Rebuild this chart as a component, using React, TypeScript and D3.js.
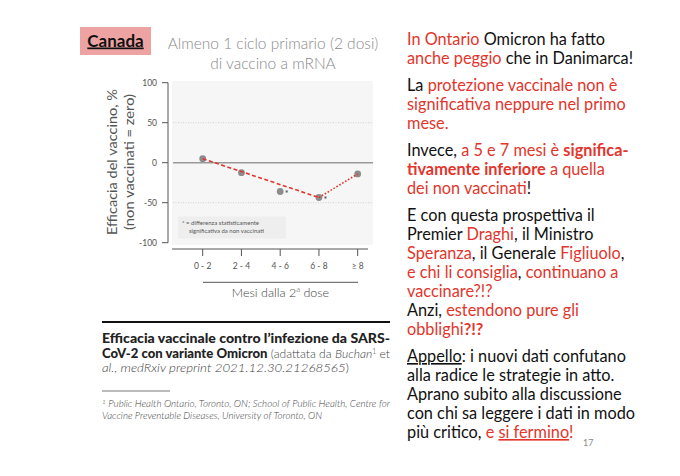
import React from "react";
import * as d3 from "d3";

const categories = ["0 - 2", "2 - 4", "4 - 6", "6 - 8", "≥ 8"];
const efficacy = [5, -12.5, -36, -43.5, -14];
const significant = [false, false, true, true, false];
const yTicks = [100, 50, 0, -50, -100];
const gridTicks = [50, -50];
const dashedTrend = ["0 - 2", "6 - 8"];
const dottedTrend = ["6 - 8", "≥ 8"];

type Seg = { t: string; c?: string; b?: boolean; u?: boolean };
const RED = "#e2352c";
const BLK = "#111";

const rightLines: (Seg[] | null)[] = [
  [{ t: "In Ontario ", c: RED }, { t: "Omicron ha fatto" }],
  [{ t: "anche peggio", c: RED }, { t: " che in Danimarca!" }],
  null,
  [{ t: "La " }, { t: "protezione vaccinale non è", c: RED }],
  [{ t: "significativa neppure nel primo", c: RED }],
  [{ t: "mese.", c: RED }],
  null,
  [{ t: "Invece, " }, { t: "a 5 e 7 mesi è ", c: RED }, { t: "significa-", c: RED, b: true }],
  [{ t: "tivamente inferiore", c: RED, b: true }, { t: " a quella", c: RED }],
  [{ t: "dei non vaccinati", c: RED }, { t: "!" }],
  null,
  [{ t: "E con questa prospettiva il" }],
  [{ t: "Premier " }, { t: "Draghi", c: RED }, { t: ", il Ministro" }],
  [{ t: "Speranza", c: RED }, { t: ", il Generale " }, { t: "Figliuolo", c: RED }, { t: "," }],
  [{ t: "e chi li consiglia", c: RED }, { t: ", " }, { t: "continuano a", c: RED }],
  [{ t: "vaccinare?!?", c: RED }],
  [{ t: "Anzi, " }, { t: "estendono pure gli", c: RED }],
  [{ t: "obblighi", c: RED }, { t: "?!?", c: RED, b: true }],
  null,
  [{ t: "Appello", u: true }, { t: ": i nuovi dati confutano" }],
  [{ t: "alla radice le strategie in atto." }],
  [{ t: "Aprano subito alla discussione" }],
  [{ t: "con chi sa leggere i dati in modo" }],
  [{ t: "più critico, " }, { t: "e ", c: RED }, { t: "si fermino", c: RED, u: true }, { t: "!", c: RED }],
];

export default function App() {
  const x = d3.scalePoint<string>().domain(categories).range([202.7, 357.7]);
  const y = d3.scaleLinear().domain([-100, 100]).range([242.7, 82.7]);
  const val = (c: string) => efficacy[categories.indexOf(c)];
  const line = d3
    .line<string>()
    .x((c) => x(c)!)
    .y((c) => y(val(c)));

  const chartFont = "Lato, 'Open Sans', sans-serif";
  const slideFont = "Lato, 'Liberation Sans', sans-serif";

  let yy = 45;
  const rightEls: React.ReactNode[] = [];
  rightLines.forEach((ln, i) => {
    if (ln === null) {
      yy += 8;
      return;
    }
    rightEls.push(
      <text key={i} x={407} y={yy} fontFamily={slideFont} fontSize={16.3} fill={BLK}>
        {ln.map((s, j) => (
          <tspan
            key={j}
            fill={s.c || BLK}
            fontWeight={s.b ? 700 : 400}
            textDecoration={s.u ? "underline" : undefined}
          >
            {s.t}
          </tspan>
        ))}
      </text>
    );
    yy += 19;
  });

  return (
    <svg
      width={680}
      height={476}
      style={{ position: "absolute", left: 0, top: 0, background: "#fff" }}
    >
      <rect x={0} y={0} width={680} height={476} fill="#fff" />
      {/* Canada label */}
      <rect x={80} y={27} width={71} height={28} fill="#eea3a3" />
      <text x={115.5} y={46.5} textAnchor="middle" fontFamily={slideFont} fontSize={17} fontWeight={700} fill="#111" textDecoration="underline">
        Canada
      </text>
      {/* subtitle */}
      <text x={273} y={49} textAnchor="middle" fontFamily={chartFont} fontWeight={300} fontSize={15.5} fill="#8a8a8a">
        Almeno 1 ciclo primario (2 dosi)
      </text>
      <text x={273} y={69} textAnchor="middle" fontFamily={chartFont} fontWeight={300} fontSize={15.5} fill="#8a8a8a">
        di vaccino a mRNA
      </text>

      {/* plot background */}
      <rect x={172} y={81} width={201} height={164} fill="#f6f6f6" />
      {gridTicks.map((t) => (
        <line key={t} x1={173} x2={373} y1={y(t)} y2={y(t)} stroke="#cfcfcf" strokeWidth={1} strokeDasharray="1,1.5" />
      ))}
      <line x1={173} x2={373} y1={y(0)} y2={y(0)} stroke="#9a9a9a" strokeWidth={1.6} />

      {/* y axis */}
      <line x1={168} x2={168} y1={y(100)} y2={y(-100)} stroke="#555" strokeWidth={1} />
      {yTicks.map((t) => (
        <g key={t}>
          <line x1={162} x2={168} y1={y(t)} y2={y(t)} stroke="#555" strokeWidth={1} />
          <text x={157} y={y(t) + 3} textAnchor="end" fontFamily={chartFont} fontSize={8.5} fill="#555">
            {t}
          </text>
        </g>
      ))}
      <text transform={`translate(117,162) rotate(-90)`} textAnchor="middle" fontFamily={chartFont} fontSize={13.5} fill="#555" textLength={146} lengthAdjust="spacingAndGlyphs">
        Efficacia del vaccino, %
      </text>
      <text transform={`translate(134,162) rotate(-90)`} textAnchor="middle" fontFamily={chartFont} fontSize={13.5} fill="#555" textLength={136} lengthAdjust="spacingAndGlyphs">
        (non vaccinati = zero)
      </text>

      {/* legend box */}
      <rect x={178} y={216.5} width={108} height={22} fill="#eeeeee" />
      <text x={182} y={225} fontFamily={chartFont} fontSize={6} fill="#555">
        <tspan fill="#333">*</tspan> = differenza statisticamente
      </text>
      <text x={189} y={233} fontFamily={chartFont} fontSize={6} fill="#555">
        significativa da non vaccinati
      </text>

      {/* x axis */}
      <line x1={172} x2={368} y1={249} y2={249} stroke="#555" strokeWidth={1} />
      {categories.map((c) => (
        <g key={c}>
          <line x1={x(c)} x2={x(c)} y1={249} y2={256} stroke="#555" strokeWidth={1} />
          <text x={x(c)} y={269} textAnchor="middle" fontFamily={chartFont} fontSize={8.5} fill="#555">
            {c}
          </text>
        </g>
      ))}
      <line x1={203} x2={358} y1={282.3} y2={282.3} stroke="#555" strokeWidth={1} />
      <text x={280.5} y={297} textAnchor="middle" fontFamily={chartFont} fontSize={12.5} fontWeight={300} fill="#444">
        Mesi dalla 2<tspan fontSize={8} dy={-5}>a</tspan>
        <tspan dy={5}> dose</tspan>
      </text>

      {/* points */}
      {categories.map((c, i) => (
        <circle key={c} cx={x(c)} cy={y(efficacy[i])} r={3.4} fill="#8c8c8c" />
      ))}
      {/* trend lines */}
      <path d={line(dashedTrend)!} fill="none" stroke={RED} strokeWidth={1.6} strokeDasharray="4,2.5" />
      <path d={line(dottedTrend)!} fill="none" stroke={RED} strokeWidth={1.6} strokeDasharray="1.6,1.8" />
      {categories.map((c, i) =>
        significant[i] ? (
          <text key={c} x={x(c)! + 4.5} y={y(efficacy[i]) + 5} fontFamily={chartFont} fontSize={9} fill="#333">
            *
          </text>
        ) : null
      )}

      {/* caption */}
      <line x1={102} x2={390} y1={322} y2={322} stroke="#111" strokeWidth={2} />
      <text x={102} y={343} fontFamily={chartFont} fontSize={13} fontWeight={900} fill="#222" textLength={288} lengthAdjust="spacingAndGlyphs">
        Efficacia vaccinale contro l’infezione da SARS-
      </text>
      <text x={102} y={358} fontFamily={chartFont} fontSize={13} fill="#222" textLength={288} lengthAdjust="spacingAndGlyphs">
        <tspan fontWeight={900}>CoV-2 con variante Omicron</tspan>
        <tspan fontWeight={300} fontSize={12} fill="#444"> (adattata da </tspan>
        <tspan fontWeight={300} fontSize={12} fontStyle="italic" fill="#444">Buchan</tspan>
        <tspan fontWeight={300} fontSize={7} dy={-4} fill="#444">1</tspan>
        <tspan fontWeight={300} fontSize={12} dy={4} fill="#444"> et</tspan>
      </text>
      <text x={102} y={372} fontFamily={chartFont} fontSize={12} fontWeight={300} fill="#444" textLength={247} lengthAdjust="spacingAndGlyphs">
        <tspan fontStyle="italic">al., medRxiv preprint 2021.12.30.21268565</tspan>)
      </text>
      <line x1={102} x2={170} y1={391} y2={391} stroke="#555" strokeWidth={0.8} />
      <text x={102} y={407} fontFamily={chartFont} fontSize={9.6} fontStyle="italic" fontWeight={300} fill="#444" textLength={288} lengthAdjust="spacingAndGlyphs">
        <tspan fontSize={6.5} dy={-3}>1</tspan>
        <tspan dy={3}> Public Health Ontario, Toronto, ON; School of Public Health, Centre for</tspan>
      </text>
      <text x={102} y={419} fontFamily={chartFont} fontSize={9.6} fontStyle="italic" fontWeight={300} fill="#444" textLength={220} lengthAdjust="spacingAndGlyphs">
        Vaccine Preventable Diseases, University of Toronto, ON
      </text>

      {/* right text */}
      {rightEls}
      <text x={583} y={446} fontFamily={slideFont} fontSize={9} fill="#888">
        17
      </text>
    </svg>
  );
}
